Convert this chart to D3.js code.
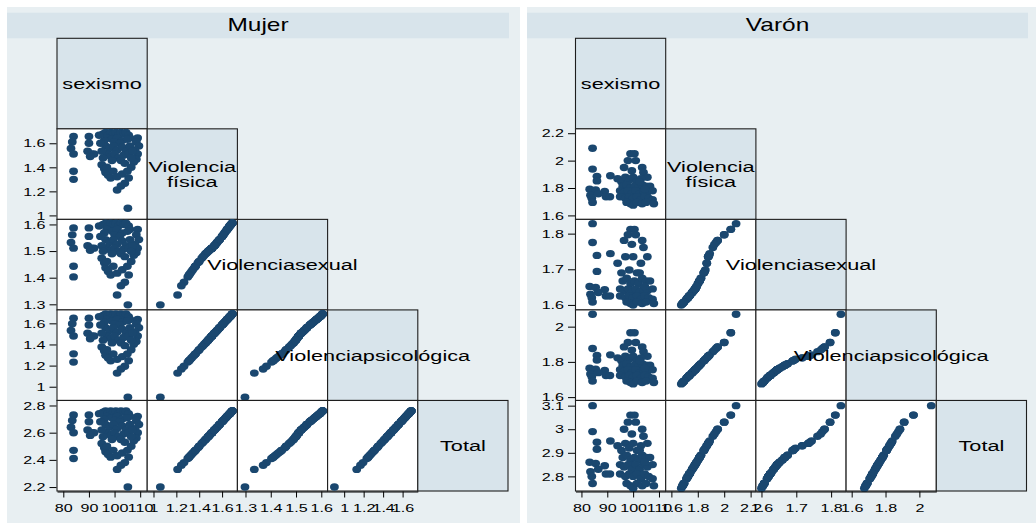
<!DOCTYPE html>
<html>
<head>
<meta charset="utf-8">
<script src="https://cdn.jsdelivr.net/npm/d3@7"></script>
<style>
  body { margin: 0; background: #fff; }
  text { font-family: "Liberation Sans", Arial, sans-serif; fill: #000; }
</style>
</head>
<body>
<svg id="chart" width="1036" height="525"></svg>
<script>
// variables of the matrix, in order
var vars = ["sexismo", "fisica", "sexual", "psico", "total"];
var diagLabels = [["sexismo"], ["Violencia", "física"], ["Violenciasexual"], ["Violenciapsicológica"], ["Total"]];

/* Mujer */
var mujerSexismo = [84,83.5,83,84,84,84, 90,90,89.5,91,92,90.5, 95.5,96.5,97.5,98.5,99.5,100.5,101.5,102.5,103.5,104.5,105.5,106,97,99,101,103,105,96,100,102, 109,108.5,109.5,108,109,108.5,107.5, 96.5,98,99.5,101,103,104.5,106,97,98.5,100,101.5,103.5,105.5,107,99,102.5,104,106.5, 95,96,96.5,97.5,98.5,99.5,97, 101,103,105,106.5,105.5,104,102.5,101, 105.2, 94,94.5,95,95.5];
var mujerFisica = [1.656,1.611,1.556,1.511,1.367,1.300, 1.656,1.600,1.533,1.511,1.511,1.489, 1.678,1.689,1.667,1.689,1.678,1.689,1.667,1.689,1.678,1.689,1.667,1.644,1.644,1.633,1.644,1.622,1.633,1.622,1.611,1.600, 1.644,1.611,1.578,1.544,1.511,1.467,1.444, 1.578,1.556,1.578,1.544,1.567,1.533,1.578,1.511,1.489,1.511,1.478,1.500,1.511,1.533,1.456,1.456,1.433,1.478, 1.422,1.389,1.356,1.333,1.311,1.367,1.400, 1.322,1.344,1.367,1.400,1.311,1.267,1.244,1.211, 1.06, 1.667,1.600,1.533,1.478];
var mujerSexual = [1.587,1.561,1.532,1.511,1.443,1.403, 1.587,1.555,1.52,1.511,1.511,1.503, 1.600,1.605,1.594,1.605,1.600,1.605,1.594,1.605,1.600,1.605,1.594,1.581,1.581,1.574,1.581,1.568,1.574,1.568,1.561,1.555, 1.581,1.561,1.543,1.526,1.511,1.494,1.484, 1.543,1.532,1.543,1.526,1.538,1.52,1.543,1.511,1.503,1.511,1.499,1.507,1.511,1.52,1.49,1.49,1.479,1.499, 1.473,1.456,1.437,1.423,1.41,1.443,1.461, 1.417,1.43,1.443,1.461,1.41,1.383,1.37,1.335, 1.298, 1.594,1.555,1.52,1.499];
var mujerPsico = [1.649,1.597,1.532,1.480,1.311,1.233, 1.649,1.584,1.506,1.480,1.480,1.454, 1.675,1.688,1.662,1.688,1.675,1.688,1.662,1.688,1.675,1.688,1.662,1.636,1.636,1.623,1.636,1.610,1.623,1.610,1.597,1.584, 1.636,1.597,1.558,1.519,1.480,1.428,1.402, 1.558,1.532,1.558,1.519,1.545,1.506,1.558,1.480,1.454,1.480,1.441,1.467,1.480,1.506,1.415,1.415,1.389,1.441, 1.376,1.337,1.298,1.272,1.246,1.311,1.350, 1.259,1.285,1.311,1.350,1.246,1.194,1.168,1.129, 0.90, 1.662,1.584,1.506,1.441];
var mujerTotal = [2.73,2.69,2.64,2.60,2.47,2.41, 2.73,2.68,2.62,2.60,2.60,2.58, 2.75,2.76,2.74,2.76,2.75,2.76,2.74,2.76,2.75,2.76,2.74,2.72,2.72,2.71,2.72,2.70,2.71,2.70,2.69,2.68, 2.72,2.69,2.66,2.63,2.60,2.56,2.54, 2.66,2.64,2.66,2.63,2.65,2.62,2.66,2.60,2.58,2.60,2.57,2.59,2.60,2.62,2.55,2.55,2.53,2.57, 2.52,2.49,2.46,2.44,2.42,2.47,2.50, 2.43,2.45,2.47,2.50,2.42,2.38,2.36,2.33, 2.20, 2.74,2.68,2.62,2.57];

/* Varón */
var varonSexismo = [84.3,84.3,86,86,91.2,83.2,85.5,83.5,89,89.5,84,84.3,86.5,91, 99,100.5,98,101,96.5,103.5,104,105.5,99.5, 94,95.5,97,98.5,100,101.5,103, 96,97.5,99,100.5,102,103.5,105,106.5, 95,96.5,98,99.5,101,102.5,104,105.5,107.5, 95,97,98.5,100,101.5,103,104.5,106,107.5, 97.5,99,100,101.5,103.5,105,108, 102.5,104.5];
var varonFisica = [2.09,1.938,1.885,1.852,1.89,1.791,1.786,1.747,1.775,1.736,1.725,1.695,1.758,1.736, 2.05,2.05,2.0,2.0,1.95,1.95,1.914,1.879,1.926, 1.868,1.846,1.879,1.857,1.879,1.846,1.868, 1.813,1.824,1.802,1.813,1.802,1.824,1.813,1.813, 1.78,1.769,1.78,1.758,1.78,1.758,1.78,1.769,1.78, 1.736,1.725,1.736,1.725,1.736,1.715,1.736,1.725,1.715, 1.695,1.685,1.675,1.695,1.685,1.695,1.685, 1.846,1.791];
var varonSexual = [1.828,1.775,1.739,1.694,1.744,1.652,1.649,1.630,1.643,1.625,1.620,1.608,1.635,1.625, 1.812,1.812,1.797,1.797,1.781,1.781,1.761,1.735,1.77, 1.717,1.69,1.735,1.698,1.735,1.69,1.717, 1.667,1.675,1.66,1.667,1.66,1.675,1.667,1.667, 1.645,1.64,1.645,1.635,1.645,1.635,1.645,1.64,1.645, 1.625,1.62,1.625,1.62,1.625,1.616,1.625,1.62,1.616, 1.608,1.604,1.60,1.608,1.604,1.608,1.604, 1.69,1.652];
var varonPsico = [2.07,1.876,1.836,1.81,1.84,1.764,1.759,1.731,1.751,1.723,1.715,1.691,1.739,1.723, 1.965,1.965,1.91,1.91,1.885,1.885,1.858,1.832,1.867, 1.823,1.806,1.832,1.815,1.832,1.806,1.823, 1.781,1.789,1.772,1.781,1.772,1.789,1.781,1.781, 1.755,1.747,1.755,1.739,1.755,1.739,1.755,1.747,1.755, 1.723,1.715,1.723,1.715,1.723,1.707,1.723,1.715,1.707, 1.691,1.683,1.675,1.691,1.683,1.691,1.683, 1.806,1.764];
var varonTotal = [3.10,2.99,2.945,2.915,2.95,2.86,2.855,2.82,2.845,2.81,2.80,2.77,2.83,2.81, 3.06,3.06,3.03,3.03,3.0,3.0,2.97,2.94,2.98, 2.93,2.91,2.94,2.92,2.94,2.91,2.93, 2.88,2.89,2.87,2.88,2.87,2.89,2.88,2.88, 2.85,2.84,2.85,2.83,2.85,2.83,2.85,2.84,2.85, 2.81,2.80,2.81,2.80,2.81,2.79,2.81,2.80,2.79, 2.77,2.76,2.75,2.77,2.76,2.77,2.76, 2.91,2.86];

/* tick labels */
var mujerTicks = { sexismo: [80, 90, 100, 110], fisica: [1, 1.2, 1.4, 1.6], sexual: [1.3, 1.4, 1.5, 1.6], psico: [1, 1.2, 1.4, 1.6], total: [2.2, 2.4, 2.6, 2.8] };
var varonTicks = { sexismo: [80, 90, 100, 110], fisica: [1.6, 1.8, 2, 2.2], sexual: [1.6, 1.7, 1.8], psico: [1.6, 1.8, 2], total: [2.8, 2.9, 3, 3.1] };

/* axis ranges (as used for columns and for rows) */
var mujerXDom = { sexismo: [77.54, 112.74], fisica: [0.945, 1.734], sexual: [1.268, 1.625], psico: [0.83, 1.756] };
var mujerYDom = { fisica: [0.967, 1.72], sexual: [1.279, 1.619], psico: [0.87, 1.727], total: [2.171, 2.837] };
var varonXDom = { sexismo: [77.7, 112.6], fisica: [1.557, 2.24], sexual: [1.584, 1.843], psico: [1.567, 2.1] };
var varonYDom = { fisica: [1.571, 2.232], sexual: [1.586, 1.84], psico: [1.581, 2.095], total: [2.738, 3.122] };

var panels = [
    { title: "Mujer", left: 57, bgX: 7, bgW: 513, titleX: 7, titleW: 502,
      cols: [mujerSexismo, mujerFisica, mujerSexual, mujerPsico, mujerTotal],
      ticks: mujerTicks, xDom: mujerXDom, yDom: mujerYDom },
    { title: "Varón", left: 575.5, bgX: 527, bgW: 509, titleX: 527, titleW: 501,
      cols: [varonSexismo, varonFisica, varonSexual, varonPsico, varonTotal],
      ticks: varonTicks, xDom: varonXDom, yDom: varonYDom }
];

var cellW = 90.2, cellH = 90.54, gridTop = 38.3;
var SX = 1.4; // the picture is stretched horizontally
var dotColor = "#1a476f", boxFill = "#d8e4eb", bgFill = "#e8eff2";
var fmt = function(d) { return String(+d.toFixed(2)); };

var svg = d3.select("#chart");

function stretchedText(parent, x, y, str, size, anchor) {
    return parent.append("g")
        .attr("transform", "translate(" + x + "," + y + ")")
        .append("text")
        .attr("transform", "scale(" + SX + ",1)")
        .attr("text-anchor", anchor || "middle")
        .attr("font-size", size)
        .text(str);
}

panels.forEach(function(p) {
    var g = svg.append("g");

    g.append("rect").attr("x", p.bgX).attr("y", 7).attr("width", p.bgW).attr("height", 516).attr("fill", bgFill);
    g.append("rect").attr("x", p.titleX).attr("y", 12.7).attr("width", p.titleW).attr("height", 25.6).attr("fill", boxFill);
    stretchedText(g, p.titleX + p.titleW / 2, 31, p.title, 17.5);

    var rows = p.cols[0].map(function(_, i) {
        var o = {};
        vars.forEach(function(v, k) { o[v] = p.cols[k][i]; });
        return o;
    });

    var xs = {}, ys = {};
    vars.forEach(function(v, k) {
        if (p.xDom[v]) xs[v] = d3.scaleLinear().domain(p.xDom[v]).range([p.left + k * cellW, p.left + (k + 1) * cellW]);
        if (p.yDom[v]) ys[v] = d3.scaleLinear().domain(p.yDom[v]).range([gridTop + (k + 1) * cellH, gridTop + k * cellH]);
    });

    // cells
    for (var i = 0; i < 5; i++) {
        for (var j = 0; j <= i; j++) {
            var cx = p.left + j * cellW, cy = gridTop + i * cellH;
            if (i == j) {
                g.append("rect").attr("x", cx).attr("y", cy).attr("width", cellW).attr("height", cellH)
                    .attr("fill", boxFill).attr("stroke", "#1e1e1e").attr("stroke-width", 1.1);
                continue;
            }
            g.append("rect").attr("x", cx).attr("y", cy).attr("width", cellW).attr("height", cellH)
                .attr("fill", "#fff").attr("stroke", "#1e1e1e").attr("stroke-width", 1.1);
            var xv = vars[j], yv = vars[i];
            g.append("g").selectAll("ellipse").data(rows).join("ellipse")
                .attr("cx", function(d) { return xs[xv](d[xv]); })
                .attr("cy", function(d) { return ys[yv](d[yv]); })
                .attr("rx", 4.4).attr("ry", 3.7)
                .attr("fill", dotColor);
        }
    }

    // y axes (rows 2..5)
    for (var r = 1; r < 5; r++) {
        var v = vars[r];
        var ay = g.append("g").attr("transform", "translate(" + (p.left - 0.5) + ",0)")
            .call(d3.axisLeft(ys[v]).tickValues(p.ticks[v]).tickFormat(fmt).tickSize(7).tickSizeOuter(0));
        ay.select(".domain").remove();
        ay.selectAll(".tick line").attr("stroke", "#000");
        ay.selectAll(".tick text").attr("font-size", 11.5).attr("font-family", null)
            .attr("x", -11 / SX).attr("transform", "scale(" + SX + ",1)");
        ay.attr("font-family", null);
    }

    // x axes (columns 1..4)
    var bottom = gridTop + 5 * cellH;
    for (var c = 0; c < 4; c++) {
        var v2 = vars[c];
        var ax = g.append("g").attr("transform", "translate(0," + (bottom + 0.5) + ")")
            .call(d3.axisBottom(xs[v2]).tickValues(p.ticks[v2]).tickFormat(fmt).tickSize(6).tickSizeOuter(0));
        ax.select(".domain").attr("stroke", "#000");
        ax.selectAll(".tick line").attr("stroke", "#000");
        ax.selectAll(".tick text").attr("font-size", 11.5).attr("font-family", null)
            .attr("y", 12.5).attr("transform", "scale(" + SX + ",1)");
        ax.attr("font-family", null);
    }

    // diagonal labels on top
    diagLabels.forEach(function(lines, k) {
        var mx = p.left + (k + 0.5) * cellW, my = gridTop + (k + 0.5) * cellH;
        lines.forEach(function(line, li) {
            var off = (li - (lines.length - 1) / 2) * 15.5;
            stretchedText(g, mx, my + off + 5.5, line, 15.5);
        });
    });
});
</script>
</body>
</html>
